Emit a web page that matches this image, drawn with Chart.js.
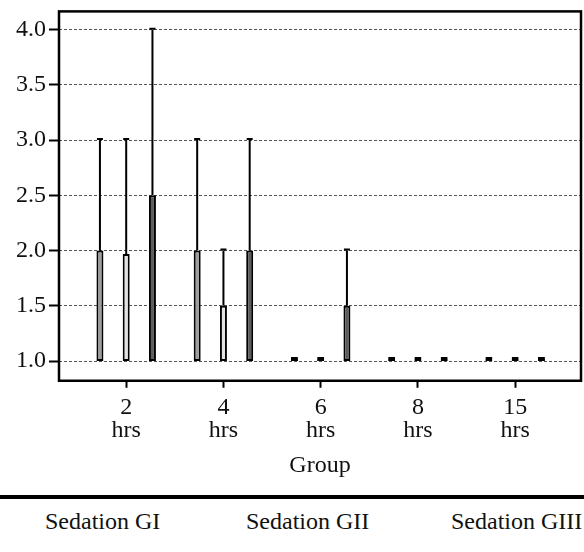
<!DOCTYPE html>
<html>
<head>
<meta charset="utf-8">
<script src="https://cdn.jsdelivr.net/npm/chart.js@4.4.1/dist/chart.umd.min.js"></script>
<style>
  html, body { margin: 0; padding: 0; background: #fff; overflow: hidden; }
  #wrap { position: relative; width: 584px; height: 552px; }
  #chartBox { position: absolute; left: 0; top: 0; width: 584px; height: 478px; }
  .rule { position: absolute; left: 0; top: 495px; width: 584px; height: 4px; background: #000; }
  .leg { position: absolute; top: 509px; font-family: 'Liberation Serif', 'DejaVu Serif', 'Times New Roman', serif; font-size: 24px; line-height: 24px; color: #111; white-space: nowrap; }
</style>
</head>
<body>
<div id="wrap">
  <div id="chartBox"><canvas id="sedationChart"></canvas></div>
  <div class="rule"></div>
  <div class="leg" style="left:45px">Sedation GI</div>
  <div class="leg" style="left:246px">Sedation GII</div>
  <div class="leg" style="left:451px">Sedation GIII</div>
</div>
<script>
// groups (hours after surgery)
const groupLabels = ['2', '4', '6', '8', '15']
const groupUnit = 'hrs'

// box low / box top / whisker max for each series
const giLow = [1, 1, 1, 1, 1]
const giTop = [2, 2, 1, 1, 1]
const giMax = [3, 3, 1, 1, 1]

const giiLow = [1, 1, 1, 1, 1]
const giiTop = [1.97, 1.5, 1, 1, 1]
const giiMax = [3, 2, 1, 1, 1]

const giiiLow = [1, 1, 1, 1, 1]
const giiiTop = [2.5, 2, 1.5, 1, 1]
const giiiMax = [4, 3, 2, 1, 1]

const yTicks = { min: 0.822, max: 4.165, step: 0.5 }

const serif = "'Liberation Serif', 'DejaVu Serif', 'Times New Roman', serif"

const boxData = (low, top) => low.map((v, i) => ({ x: i, y: [v, top[i]] }))
const whiskerData = (top, max) => top.map((v, i) => ({ x: i, y: [v, max[i]] }))
const capData = (max) => max.map((v, i) => ({ x: i, y: [v, v] }))

const series = [
  { name: 'Sedation GI', low: giLow, top: giTop, max: giMax, fill: '#9d9d9d' },
  { name: 'Sedation GII', low: giiLow, top: giiTop, max: giiMax, fill: '#e2e2e2' },
  { name: 'Sedation GIII', low: giiiLow, top: giiiTop, max: giiiMax, fill: '#5c5c5c' },
]

const datasets = []
series.forEach((s) => {
  datasets.push({
    label: s.name,
    stack: s.name,
    data: boxData(s.low, s.top),
    backgroundColor: s.fill,
    borderColor: '#000',
    borderWidth: 2,
    borderSkipped: false,
    maxBarThickness: 7,
    minBarLength: 4,
  })
  datasets.push({
    label: s.name + ' max',
    stack: s.name,
    data: whiskerData(s.top, s.max),
    backgroundColor: '#000',
    borderWidth: 0,
    maxBarThickness: 2,
  })
  datasets.push({
    label: s.name + ' cap',
    stack: s.name,
    data: capData(s.max),
    backgroundColor: '#000',
    borderWidth: 0,
    maxBarThickness: 6,
    minBarLength: 2,
  })
})

// frame around the plot area
const plotFrame = {
  id: 'plotFrame',
  afterDraw(chart) {
    const { ctx, chartArea } = chart
    ctx.save()
    ctx.lineWidth = 2.5
    ctx.strokeStyle = '#000'
    ctx.strokeRect(chartArea.left, chartArea.top, chartArea.right - chartArea.left, chartArea.bottom - chartArea.top)
    ctx.restore()
  },
}

new Chart(document.getElementById('sedationChart').getContext('2d'), {
  type: 'bar',
  data: { datasets },
  options: {
    responsive: true,
    maintainAspectRatio: false,
    animation: false,
    grouped: true,
    categoryPercentage: 0.81,
    barPercentage: 1,
    layout: { padding: { left: 13, top: 8, right: 3, bottom: 0 } },
    plugins: {
      legend: { display: false },
      tooltip: { enabled: false },
    },
    scales: {
      x: {
        type: 'linear',
        min: -0.691,
        max: 4.677,
        offset: false,
        grid: { drawOnChartArea: false, drawTicks: true, tickLength: 7, tickColor: '#000', tickWidth: 2, offset: false },
        border: { display: false },
        ticks: {
          stepSize: 1,
          includeBounds: false,
          autoSkip: false,
          maxRotation: 0,
          padding: 8,
          color: '#111',
          font: { family: serif, size: 24, lineHeight: 0.98 },
          callback: (v) => (groupLabels[v] !== undefined ? [groupLabels[v], groupUnit] : ''),
        },
        title: {
          display: true,
          text: 'Group',
          color: '#111',
          font: { family: serif, size: 24, lineHeight: 1.05 },
          padding: { top: 2, bottom: 0 },
        },
      },
      y: {
        stacked: false,
        min: yTicks.min,
        max: yTicks.max,
        grid: { color: '#555', lineWidth: 1, tickColor: '#000', tickWidth: 2, tickLength: 10 },
        border: { display: false, dash: [3, 2] },
        ticks: {
          stepSize: yTicks.step,
          includeBounds: false,
          padding: 3,
          color: '#111',
          font: { family: serif, size: 24, lineHeight: 0.7 },
          callback: (v) => v.toFixed(1),
        },
      },
    },
  },
  plugins: [plotFrame],
})
</script>
</body>
</html>
